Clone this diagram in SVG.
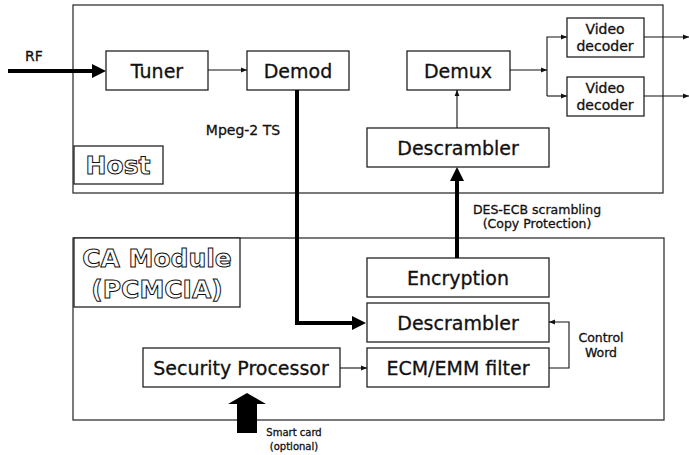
<svg xmlns="http://www.w3.org/2000/svg" width="689" height="455" viewBox="0 0 689 455">
<defs>
<style>
.box{fill:#fff;stroke:#222;stroke-width:1.3}
.frame{fill:none;stroke:#333;stroke-width:1.3}
.t{font-family:"DejaVu Sans","Liberation Sans",Arial,sans-serif;fill:#111;stroke:#111;stroke-width:0.3;text-anchor:middle}
.big{font-size:19px}
.sm{font-size:14px}
.lbl{font-size:12.5px}
.tiny{font-size:10px}
.out{font-family:"DejaVu Sans","Liberation Sans",Arial,sans-serif;font-weight:bold;fill:#fff;stroke:#111;stroke-width:1;text-anchor:middle;font-size:25px}
.thin{fill:none;stroke:#111;stroke-width:1.1}
.thick{fill:none;stroke:#000;stroke-width:4}
</style>
<marker id="ah" viewBox="0 0 10 10" refX="10" refY="5" markerWidth="6" markerHeight="6" orient="auto" markerUnits="userSpaceOnUse">
<path d="M0,1 L10,5 L0,9 z" fill="#111"/>
</marker>
</defs>
<rect width="689" height="455" fill="#fff"/>
<g id="host">
<rect class="frame" x="73" y="5" width="590" height="188"/>
<rect class="box" x="74" y="146" width="89" height="38"/>
<text class="out" x="118" y="174">Host</text>
</g>
<g id="ca-module">
<rect class="frame" x="73" y="238" width="591" height="182"/>
<rect class="box" x="74" y="238" width="166" height="69"/>
<text class="out" x="157" y="267">CA Module</text>
<text class="out" x="157" y="298">(PCMCIA)</text>
</g>
<g id="tuner"><rect class="box" x="106" y="51" width="102" height="39"/><text class="t big" x="157" y="78">Tuner</text></g>
<g id="demod"><rect class="box" x="247" y="51" width="102" height="39"/><text class="t big" x="298" y="78">Demod</text></g>
<g id="demux"><rect class="box" x="407" y="51" width="103" height="39"/><text class="t big" x="458" y="78">Demux</text></g>
<g id="video-decoder-1"><rect class="box" x="567" y="18" width="77" height="39"/><text class="t sm" x="605" y="34">Video</text><text class="t sm" x="605" y="51">decoder</text></g>
<g id="video-decoder-2"><rect class="box" x="567" y="77" width="77" height="39"/><text class="t sm" x="605" y="93">Video</text><text class="t sm" x="605" y="110">decoder</text></g>
<g id="descrambler-host"><rect class="box" x="367" y="128" width="182" height="39"/><text class="t big" x="458" y="155">Descrambler</text></g>
<g id="encryption"><rect class="box" x="367" y="258" width="182" height="39"/><text class="t big" x="458" y="285">Encryption</text></g>
<g id="descrambler-ca"><rect class="box" x="367" y="303" width="182" height="39"/><text class="t big" x="458" y="330">Descrambler</text></g>
<g id="ecm-emm-filter"><rect class="box" x="367" y="348" width="182" height="39"/><text class="t big" x="458" y="375">ECM/EMM filter</text></g>
<g id="security-processor"><rect class="box" x="143" y="348" width="197" height="39"/><text class="t big" x="241" y="375">Security Processor</text></g>
<g id="connectors">
<line class="thick" x1="8" y1="71" x2="93" y2="71"/>
<path d="M92,64 L106,71 L92,78 z" fill="#000"/>
<line class="thin" x1="208" y1="70" x2="247" y2="70" marker-end="url(#ah)"/>
<polyline class="thick" points="297,90 297,323 354,323"/>
<path d="M352,316 L366,323 L352,330 z" fill="#000"/>
<line class="thin" x1="457" y1="128" x2="457" y2="90" marker-end="url(#ah)"/>
<line class="thick" x1="457" y1="258" x2="457" y2="180"/>
<path d="M450,181 L457,167 L464,181 z" fill="#000"/>
<line class="thin" x1="510" y1="70" x2="547" y2="70" marker-end="url(#ah)"/>
<polyline class="thin" points="547,96 547,37 567,37" marker-end="url(#ah)"/>
<polyline class="thin" points="547,96 567,96" marker-end="url(#ah)"/>
<line class="thin" x1="644" y1="37" x2="689" y2="37" marker-end="url(#ah)"/>
<line class="thin" x1="644" y1="96" x2="689" y2="96" marker-end="url(#ah)"/>
<line class="thin" x1="340" y1="368" x2="367" y2="368" marker-end="url(#ah)"/>
<polyline class="thin" points="549,368 569,368 569,322 549,322" marker-end="url(#ah)"/>
<path d="M237,433 L237,404 L228,404 L247,393 L266,404 L257,404 L257,433 z" fill="#000"/>
</g>
<g id="labels">
<text class="t sm" x="34" y="61">RF</text>
<text class="t sm" x="243" y="135">Mpeg-2 TS</text>
<text class="t lbl" x="537" y="214">DES-ECB scrambling</text>
<text class="t lbl" x="537" y="228">(Copy Protection)</text>
<text class="t lbl" x="601" y="342">Control</text>
<text class="t lbl" x="601" y="357">Word</text>
<text class="t tiny" x="294" y="436">Smart card</text>
<text class="t tiny" x="294" y="450">(optional)</text>
</g>
</svg>
